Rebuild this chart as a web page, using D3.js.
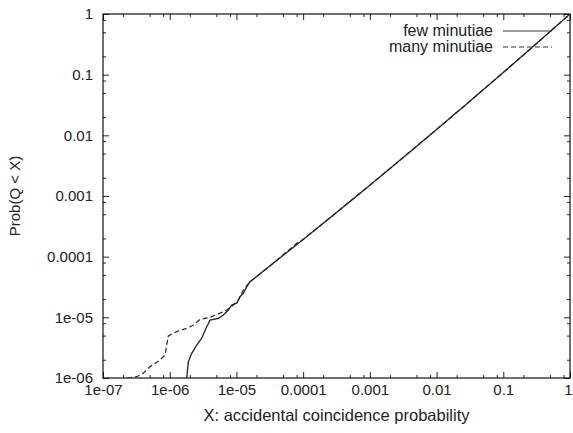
<!DOCTYPE html>
<html>
<head>
<meta charset="utf-8">
<script src="https://cdn.jsdelivr.net/npm/d3@7"></script>
<style>
  html, body { margin: 0; padding: 0; background: #fff; }
  svg { display: block; }
  text { font-family: "Liberation Sans", Arial, Helvetica, sans-serif; fill: #222; }
</style>
</head>
<body>
<svg id="chart" width="573" height="433"></svg>
<script>
// ---- data ----
const seriesNames = ["few minutiae", "many minutiae"];

// "few minutiae" (solid)
const fewX = [1.80e-6, 1.90e-6, 2.14e-6, 2.54e-6, 3.02e-6, 3.50e-6, 4.02e-6, 5.36e-6, 6.37e-6, 7.57e-6,
              8.51e-6, 1.01e-5, 1.13e-5, 1.27e-5, 1.43e-5, 1.60e-5, 3e-5, 1e-4, 3e-4, 1e-3,
              3e-3, 1e-2, 3e-2, 0.1, 0.3, 1];
const fewY = [1.0e-6, 1.86e-6, 2.55e-6, 3.50e-6, 4.52e-6, 6.6e-6, 9.0e-6, 9.6e-6, 1.09e-5, 1.32e-5,
              1.60e-5, 1.71e-5, 2.19e-5, 2.49e-5, 3.20e-5, 3.87e-5, 6.68e-5, 1.92e-4, 5.1e-4, 1.51e-3,
              4.1e-3, 1.25e-2, 3.48e-2, 0.109, 0.31, 1];

// "many minutiae" (dashed)
const manyX = [2.29e-7, 3.20e-7, 4.02e-7, 5.07e-7, 7.16e-7, 8.51e-7, 9.02e-7, 9.53e-7, 1.27e-6, 1.80e-6,
               2.26e-6, 2.85e-6, 4.02e-6, 5.68e-6, 7.16e-6, 9.0e-6, 1.07e-5, 1.27e-5, 1.60e-5, 3e-5,
               8.5e-5, 1e-4, 3e-4, 1e-3, 3e-3, 1e-2, 3e-2, 0.1, 0.3, 1];
const manyY = [1.0e-6, 1.05e-6, 1.20e-6, 1.54e-6, 1.98e-6, 2.39e-6, 3.50e-6, 4.93e-6, 5.80e-6, 6.6e-6,
               7.48e-6, 9.29e-6, 1.0e-5, 1.17e-5, 1.32e-5, 1.60e-5, 1.93e-5, 2.82e-5, 3.87e-5, 6.68e-5,
               1.75e-4, 1.92e-4, 5.1e-4, 1.51e-3, 4.1e-3, 1.25e-2, 3.48e-2, 0.109, 0.31, 1];

const xTickValues = [1e-7, 1e-6, 1e-5, 1e-4, 1e-3, 1e-2, 1e-1, 1];
const xTickLabels = ["1e-07", "1e-06", "1e-05", "0.0001", "0.001", "0.01", "0.1", "1"];
const yTickValues = [1e-6, 1e-5, 1e-4, 1e-3, 1e-2, 1e-1, 1];
const yTickLabels = ["1e-06", "1e-05", "0.0001", "0.001", "0.01", "0.1", "1"];
const minorMultipliers = [2, 5, 8];

const xTitle = "X: accidental coincidence probability";
const yTitle = "Prob(Q < X)";

// ---- layout ----
const L = 103, R = 570, T = 14, B = 378;
const svg = d3.select("#chart");

const x = d3.scaleLog().domain([1e-7, 1]).range([L, R]);
const y = d3.scaleLog().domain([1e-6, 1]).range([B, T]);

function minors(majors) {
  const out = [];
  majors.slice(0, -1).forEach(m => minorMultipliers.forEach(k => out.push(m * k)));
  return out;
}
const xMinor = minors(xTickValues);
const yMinor = minors(yTickValues);

const fontSize = 15;
const majorLen = 6, minorLen = 3;

function styleAxis(g) {
  g.select(".domain").remove();
  g.selectAll(".tick line").attr("stroke", "#222").attr("stroke-width", 1);
  g.selectAll(".tick text").attr("font-size", fontSize).attr("fill", "#222")
    .attr("font-family", '"Liberation Sans", Arial, Helvetica, sans-serif');
}

// bottom
const xAxisG = svg.append("g").attr("transform", `translate(0,${B})`)
  .call(d3.axisBottom(x).tickValues(xTickValues).tickFormat((d, i) => xTickLabels[i])
        .tickSize(-majorLen).tickSizeOuter(0).tickPadding(6))
  .call(styleAxis);
// keep the last label ("1") inside the page edge
xAxisG.selectAll(".tick text").filter(d => d === 1).attr("dx", -2);
svg.append("g").attr("transform", `translate(0,${B})`)
  .call(d3.axisBottom(x).tickValues(xMinor).tickFormat("").tickSize(-minorLen).tickSizeOuter(0))
  .call(styleAxis);
// top
svg.append("g").attr("transform", `translate(0,${T})`)
  .call(d3.axisTop(x).tickValues(xTickValues).tickFormat("").tickSize(-majorLen).tickSizeOuter(0))
  .call(styleAxis);
svg.append("g").attr("transform", `translate(0,${T})`)
  .call(d3.axisTop(x).tickValues(xMinor).tickFormat("").tickSize(-minorLen).tickSizeOuter(0))
  .call(styleAxis);
// left
svg.append("g").attr("transform", `translate(${L},0)`)
  .call(d3.axisLeft(y).tickValues(yTickValues).tickFormat((d, i) => yTickLabels[i])
        .tickSize(-majorLen).tickSizeOuter(0).tickPadding(10))
  .call(styleAxis);
svg.append("g").attr("transform", `translate(${L},0)`)
  .call(d3.axisLeft(y).tickValues(yMinor).tickFormat("").tickSize(-minorLen).tickSizeOuter(0))
  .call(styleAxis);
// right
svg.append("g").attr("transform", `translate(${R},0)`)
  .call(d3.axisRight(y).tickValues(yTickValues).tickFormat("").tickSize(-majorLen).tickSizeOuter(0))
  .call(styleAxis);
svg.append("g").attr("transform", `translate(${R},0)`)
  .call(d3.axisRight(y).tickValues(yMinor).tickFormat("").tickSize(-minorLen).tickSizeOuter(0))
  .call(styleAxis);

// frame
svg.append("rect").attr("x", L).attr("y", T).attr("width", R - L).attr("height", B - T)
  .attr("fill", "none").attr("stroke", "#111").attr("stroke-width", 1.2);

// clip
svg.append("clipPath").attr("id", "clip").append("rect")
  .attr("x", L).attr("y", T).attr("width", R - L).attr("height", B - T);

const line = d3.line().x(d => x(d[0])).y(d => y(d[1]));
const fewData = fewX.map((v, i) => [v, fewY[i]]);
const manyData = manyX.map((v, i) => [v, manyY[i]]);

const plot = svg.append("g").attr("clip-path", "url(#clip)");
plot.append("path").datum(manyData).attr("d", line)
  .attr("fill", "none").attr("stroke", "#333").attr("stroke-width", 1.3)
  .attr("stroke-dasharray", "5,3");
plot.append("path").datum(fewData).attr("d", line)
  .attr("fill", "none").attr("stroke", "#222").attr("stroke-width", 1.3);

// legend
const legend = svg.append("g");
const legendRows = [
  { name: seriesNames[0], dash: null, ty: 36, ly: 31 },
  { name: seriesNames[1], dash: "5,3", ty: 52, ly: 47 }
];
legendRows.forEach(r => {
  legend.append("text").attr("x", 493).attr("y", r.ty).attr("text-anchor", "end")
    .attr("font-size", 16).text(r.name);
  legend.append("line").attr("x1", 503).attr("x2", 552).attr("y1", r.ly).attr("y2", r.ly)
    .attr("stroke", "#333").attr("stroke-width", 1.2)
    .attr("stroke-dasharray", r.dash);
});

// titles
svg.append("text").attr("x", (L + R) / 2).attr("y", 421).attr("text-anchor", "middle")
  .attr("font-size", 16.5).text(xTitle);
svg.append("text").attr("transform", `translate(20,${(T + B) / 2}) rotate(-90)`)
  .attr("text-anchor", "middle").attr("font-size", 15).text(yTitle);
</script>
</body>
</html>
